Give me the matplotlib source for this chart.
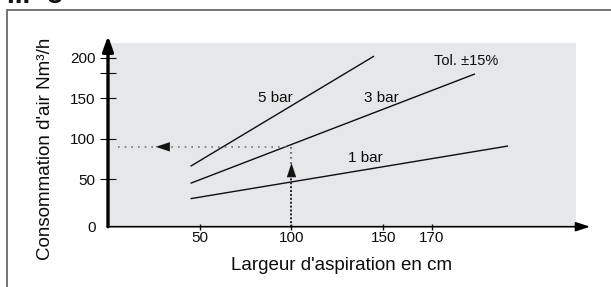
import matplotlib

matplotlib.use("Agg")
import matplotlib.pyplot as plt
from matplotlib.patches import Rectangle

plt.rcParams["font.family"] = ["Liberation Sans", "DejaVu Sans"]

# pressure curves: (width cm, air consumption Nm3/h) end points
bar_labels = ["5 bar", "3 bar", "1 bar"]
bar_x = [[45, 145], [45, 200], [45, 218]]
bar_y = [[66, 202], [45, 180], [26, 91]]
label_pos = [(91, 150), (149, 150), (140, 76)]

# reading example: 100 cm -> 90 Nm3/h
read_x = 100
read_y = 90

# the drawing's axes are not quite linear, so ticks sit where they are drawn
y_ticks = [-8.6, 50, 100, 150, 180.7, 200]
y_tick_labels = ["0", "50", "100", "150", "", "200"]
x_ticks = [50, 100, 150, 176.6]
x_tick_labels = ["50", "100", "150", "170"]

W, H = 611, 287
INK = "#0d0d0d"
fig = plt.figure(figsize=(W / 100, H / 100), dpi=100)

# outer frame (cut at the right and bottom edges)
fig.patches.append(
    Rectangle((7 / W, -0.1), 1.2, 1.1 - 10 / H, transform=fig.transFigure,
              fill=False, edgecolor="#6a6a6a", linewidth=1.3)
)
fig.text(7 / W, 1 - 3 / H, "III- 8", fontsize=20, fontweight="bold",
         va="baseline", ha="left", color="#111111")

ax = fig.add_axes([108 / W, (H - 226.7) / H, (575.7 - 108) / W, (226.7 - 43.3) / H])
ax.set_facecolor("#e6e7e9")
ax.set_xlim(0, 254.9)
ax.set_ylim(-8.6, 217.8)
for s in ax.spines.values():
    s.set_visible(False)

for xs, ys in zip(bar_x, bar_y):
    ax.plot(xs, ys, color=INK, linewidth=1.0, solid_capstyle="butt")
for text, (tx, ty) in zip(bar_labels, label_pos):
    ax.text(tx, ty, text, fontsize=11, ha="center", va="center", color=INK)
ax.text(195, 196, "Tol. \u00b115%", fontsize=10.5, ha="center", va="center", color=INK)

# dotted reading lines
ax.plot([5.5, read_x], [read_y, read_y], color="#777777", linestyle=(0, (1, 3)),
        linewidth=1.2)
ax.plot([read_x, read_x], [read_y, 60], color="#555555", linestyle=(0, (1, 2)),
        linewidth=1.2)
ax.plot([read_x, read_x], [-8.6, 58], color="#222222", linestyle=(0, (1, 1)),
        linewidth=1.4)
head = "-|>,head_length=1.0,head_width=0.33"
ax.annotate("", xy=(read_x, 70), xytext=(read_x, 54),
            arrowprops=dict(arrowstyle=head, color="#111111", linewidth=0.1,
                            shrinkA=0, shrinkB=0))
ax.annotate("", xy=(26, read_y), xytext=(34, read_y),
            arrowprops=dict(arrowstyle=head, color="#111111", linewidth=0.1,
                            shrinkA=0, shrinkB=0))

# axes with arrow heads
ax.annotate("", xy=(0, 227), xytext=(0, -8.6), annotation_clip=False,
            arrowprops=dict(arrowstyle="-|>,head_length=0.9,head_width=0.32",
                            color="#000000", linewidth=2.4, shrinkA=0, shrinkB=0))
ax.annotate("", xy=(262.7, -8.6), xytext=(-0.5, -8.6), annotation_clip=False,
            arrowprops=dict(arrowstyle="-|>,head_length=0.85,head_width=0.28",
                            color="#000000", linewidth=1.2, shrinkA=0, shrinkB=0))

ax.set_yticks(y_ticks, y_tick_labels)
ax.set_xticks(x_ticks, x_tick_labels)
ax.tick_params(axis="y", direction="inout", length=11, width=0.8, pad=3.3,
               labelsize=11, colors=INK)
ax.tick_params(axis="x", direction="inout", length=4.5, width=1.0, pad=1.2,
               labelsize=11, colors=INK)
ax.yaxis.get_major_ticks()[0].tick1line.set_visible(False)

fig.text(46 / W, 1 - 148.5 / H, "Consommation d'air Nm\u00b3/h", rotation=90,
         fontsize=13.5, ha="center", va="center", color=INK)
fig.text(342 / W, 1 - 265 / H, "Largeur d'aspiration en cm",
         fontsize=13.5, ha="center", va="center", color=INK)

fig.savefig("out.png", dpi=100)
